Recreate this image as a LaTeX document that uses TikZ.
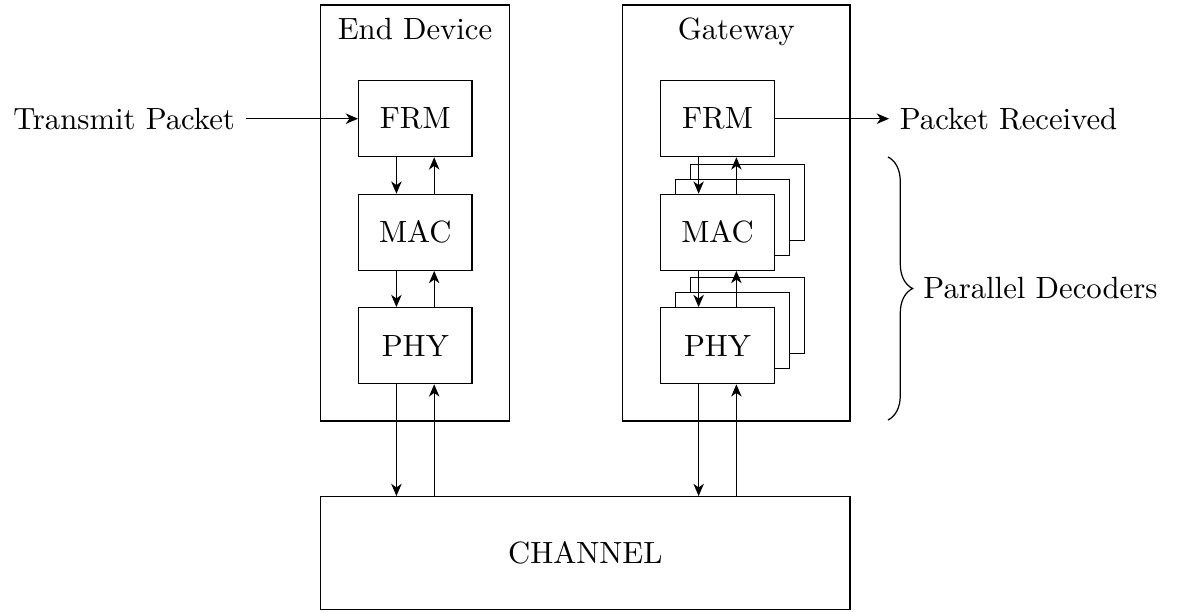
\documentclass[tikz,border=0pt]{standalone}
\usepackage{amsmath}
\usetikzlibrary{arrows.meta,fit,decorations.pathreplacing}

\begin{document}
\begin{tikzpicture}[x=0.3257pt,y=-0.3257pt,
  layer/.style={draw, fill=white, minimum width=36.9pt, minimum height=24.75pt, inner sep=0pt},
  sig/.style={-{Stealth[length=4pt,width=3.4pt,inset=1.2pt]}},
  brace/.style={decorate, decoration={brace, amplitude=8pt}}]
  \useasboundingbox (0,0) rectangle (1178,611);

  % devices
  \node[draw, inner sep=0pt, fit={(320.7,5) (509.3,421)}] (edev) {};
  \node[draw, inner sep=0pt, fit={(622.7,5) (850,421)}] (gw) {};
  \node[anchor=base] (edev title) at (415,39) {End Device};
  \node[anchor=base] (gw title) at (736.3,39) {Gateway};

  % end device stack
  \node[layer] (frm1) at (415.3,118.7) {FRM};
  \node[layer] (mac1) at (415.3,232.3) {MAC};
  \node[layer] (phy1) at (415.3,345.7) {PHY};

  % gateway stack (parallel copies behind)
  \node[layer] (mac2c) at (747.5,202.3) {};
  \node[layer] (mac2b) at (732.5,217.3) {};
  \node[layer] (phy2c) at (747.5,315.7) {};
  \node[layer] (phy2b) at (732.5,330.7) {};
  \node[layer] (frm2) at (717.5,118.7) {FRM};
  \node[layer] (mac2) at (717.5,232.3) {MAC};
  \node[layer] (phy2) at (717.5,345.7) {PHY};

  % channel
  \node[draw, inner sep=0pt, minimum width=172.4pt, minimum height=36.7pt] (chan) at (585.35,553) {CHANNEL};

  % in / out
  \node[anchor=east] (tx) at (245.7,118.7) {Transmit Packet};
  \node[anchor=west] (rx) at (889,118.7) {Packet Received};
  \draw[sig] (tx) -- (frm1);
  \draw[sig] (frm2) -- (rx);

  % down / up between layers
  \foreach \dev in {1,2} {
    \draw[sig] ([xshift=-6.15pt]frm\dev.south) -- ([xshift=-6.15pt]mac\dev.north);
    \draw[sig] ([xshift=6.15pt]mac\dev.north) -- ([xshift=6.15pt]frm\dev.south);
    \draw[sig] ([xshift=-6.15pt]mac\dev.south) -- ([xshift=-6.15pt]phy\dev.north);
    \draw[sig] ([xshift=6.15pt]phy\dev.north) -- ([xshift=6.15pt]mac\dev.south);
    % to / from channel
    \coordinate (dn\dev) at ([xshift=-6.15pt]phy\dev.south);
    \coordinate (up\dev) at ([xshift=6.15pt]phy\dev.south);
    \draw[sig] (dn\dev) -- (dn\dev |- chan.north);
    \draw[sig] (up\dev |- chan.north) -- (up\dev);
  }

  % decoders
  \draw[brace] (888,157) -- node[anchor=west, xshift=8pt] (pd) {Parallel Decoders} (888,420);
\end{tikzpicture}
\end{document}
